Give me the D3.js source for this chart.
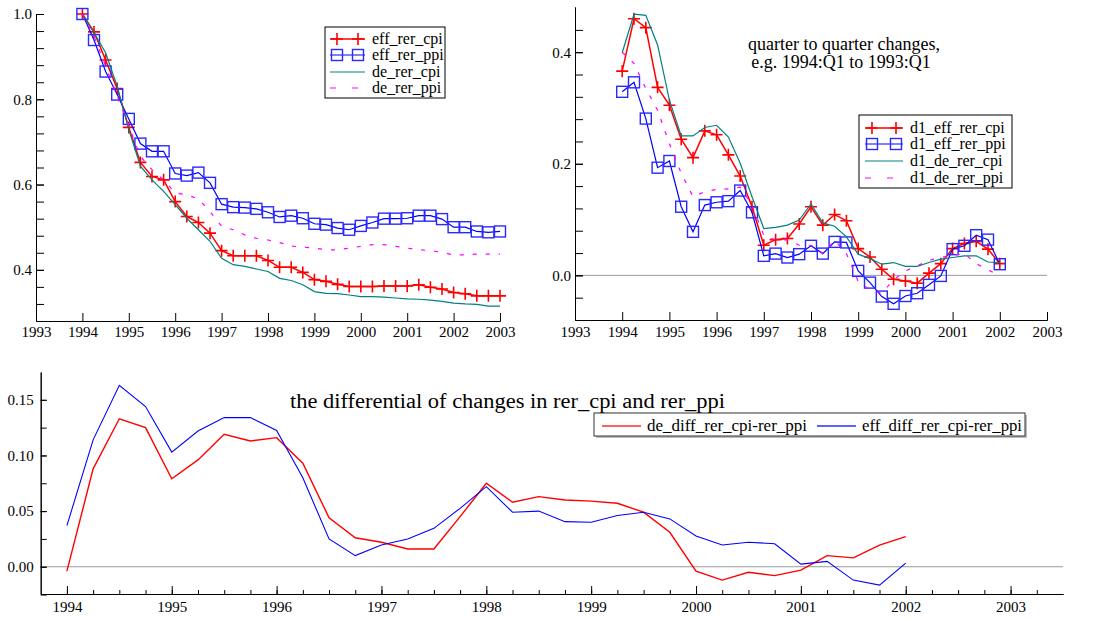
<!DOCTYPE html>
<meta charset="utf-8">
<title>rer cpi / ppi</title>
<style>
body { margin:0; background:#fff; }
svg { font-family: "Liberation Serif", "Times New Roman", serif; }
.axis path, .axis line { stroke:#000; stroke-width:1; }
.axis text { fill:#000; font-family: "Liberation Serif", "Times New Roman", serif; }
.zero { stroke:#999; stroke-width:1; }
.note { font-size:18px; fill:#000; }
</style>
<body>
<svg width="1093" height="618" id="chart"></svg>
<script src="https://d3js.org/d3.v7.min.js"></script>
<script>
// levels, quarterly from 1994:Q1 (=1)
var effRerCpi = [1.0,0.958,0.892,0.825,0.734,0.652,0.619,0.611,0.560,0.525,0.511,0.486,0.445,0.433,0.433,0.433,0.422,0.406,0.406,0.394,0.377,0.373,0.366,0.361,0.361,0.361,0.362,0.362,0.362,0.365,0.359,0.355,0.347,0.344,0.339,0.339,0.339];
var effRerPpi = [1.0,0.939,0.865,0.811,0.754,0.696,0.678,0.678,0.626,0.621,0.628,0.604,0.554,0.547,0.546,0.543,0.535,0.524,0.527,0.521,0.508,0.506,0.498,0.494,0.503,0.511,0.520,0.520,0.521,0.527,0.527,0.519,0.500,0.500,0.490,0.488,0.490];
var deRerCpi = [1.0,0.956,0.909,0.831,0.729,0.643,0.611,0.584,0.553,0.521,0.494,0.467,0.427,0.412,0.408,0.402,0.396,0.380,0.375,0.365,0.349,0.345,0.344,0.341,0.337,0.337,0.336,0.334,0.332,0.331,0.329,0.326,0.322,0.320,0.319,0.315,0.315];
var deRerPpi = [1.0,0.948,0.878,0.807,0.737,0.666,0.635,0.611,0.580,0.576,0.566,0.537,0.502,0.494,0.482,0.474,0.470,0.464,0.456,0.453,0.451,0.447,0.447,0.451,0.455,0.459,0.459,0.455,0.451,0.447,0.445,0.441,0.435,0.435,0.437,0.437,0.437];

// changes on the same quarter of the year before, 1994:Q1 .. 2002:Q1
var d1EffRerCpi = [0.366,0.460,0.444,0.337,0.305,0.244,0.211,0.259,0.252,0.216,0.178,0.123,0.054,0.064,0.066,0.092,0.123,0.090,0.109,0.098,0.048,0.033,0.011,-0.007,-0.010,-0.014,0.004,0.021,0.048,0.057,0.061,0.047,0.021];
var d1EffRerPpi = [0.329,0.346,0.281,0.193,0.205,0.123,0.078,0.126,0.131,0.133,0.152,0.113,0.035,0.039,0.032,0.038,0.053,0.039,0.060,0.059,0.008,-0.013,-0.038,-0.051,-0.037,-0.032,-0.017,-0.001,0.047,0.053,0.072,0.064,0.020];
var d1DeRerCpi = [0.399,0.468,0.466,0.413,0.314,0.250,0.250,0.265,0.269,0.248,0.201,0.141,0.084,0.086,0.090,0.099,0.128,0.094,0.088,0.069,0.038,0.030,0.020,0.023,0.016,0.016,0.023,0.029,0.032,0.035,0.035,0.024,0.023];
var d1DeRerPpi = [0.400,0.380,0.335,0.296,0.236,0.183,0.141,0.150,0.154,0.155,0.158,0.126,0.072,0.063,0.064,0.054,0.054,0.039,0.063,0.039,-0.011,-0.026,-0.032,-0.008,0.008,0.017,0.027,0.032,0.036,0.039,0.021,0.010,-0.001];

// differential cpi minus ppi changes
var deDiff = [-0.004,0.088,0.133,0.125,0.079,0.096,0.119,0.113,0.116,0.093,0.044,0.026,0.022,0.016,0.016,0.045,0.075,0.058,0.063,0.060,0.059,0.057,0.049,0.031,-0.004,-0.012,-0.005,-0.008,-0.003,0.010,0.008,0.0195,0.027];
var effDiff = [0.037,0.114,0.163,0.144,0.103,0.122,0.134,0.134,0.1225,0.080,0.025,0.010,0.0195,0.025,0.0345,0.0525,0.072,0.049,0.050,0.0405,0.040,0.046,0.049,0.043,0.0276,0.0195,0.022,0.0207,0.0024,0.0048,-0.012,-0.0165,0.0033];

var startYear = 1994;
var yearTicks = d3.range(1993, 2004);
var serif = '"Liberation Serif", "Times New Roman", serif';

var svg = d3.select("#chart");

function quarters(vals) {
  return vals.map(function(v, i) { return {t: startYear + i / 4, v: v}; });
}

function styleAxis(a, size) {
  a.attr("font-family", serif).attr("font-size", size);
  a.selectAll("text").attr("font-family", serif).attr("font-size", size).attr("fill", "#000");
}

function drawPanel(p) {
  var g = svg.append("g");
  var x = d3.scaleLinear().domain(p.xDomain).range(p.xRange);
  var y = d3.scaleLinear().domain(p.yDomain).range(p.yRange);

  if (p.zero) {
    g.append("line").attr("class", "zero")
      .attr("x1", p.xRange[0]).attr("x2", p.xRange[1])
      .attr("y1", y(0)).attr("y2", y(0));
  }

  // minor ticks
  g.append("g").attr("class", "axis")
    .attr("transform", "translate(0," + p.yRange[0] + ")")
    .call(d3.axisBottom(x).tickValues(p.xMinor).tickSize(-p.minorLen).tickSizeOuter(0).tickFormat(""));
  g.append("g").attr("class", "axis")
    .attr("transform", "translate(" + p.xRange[0] + ",0)")
    .call(d3.axisLeft(y).tickValues(p.yMinor).tickSize(-p.yMinorLen).tickSizeOuter(0).tickFormat(""));

  // major ticks + labels
  var xa = g.append("g").attr("class", "axis")
    .attr("transform", "translate(0," + p.yRange[0] + ")")
    .call(d3.axisBottom(x).tickValues(p.xMajor).tickSize(-8).tickSizeOuter(0)
      .tickPadding(p.xPad).tickFormat(d3.format("d")));
  styleAxis(xa, p.tickFont);
  var ya = g.append("g").attr("class", "axis")
    .attr("transform", "translate(" + p.xRange[0] + ",0)")
    .call(d3.axisLeft(y).tickValues(p.yMajor).tickSize(-p.yMajorLen).tickSizeOuter(0)
      .tickPadding(p.yPad).tickFormat(d3.format(p.yFmt)));
  styleAxis(ya, p.tickFont);

  var line = d3.line().x(function(d) { return x(d.t); }).y(function(d) { return y(d.v); });

  p.series.forEach(function(s) {
    var pts = quarters(s.values);
    g.append("path").datum(pts)
      .attr("fill", "none")
      .attr("stroke", s.color)
      .attr("stroke-width", s.width || 1.2)
      .attr("stroke-dasharray", s.dash || null)
      .attr("d", line);
    if (s.marker) {
      drawMarkers(g, pts.map(function(d) { return [x(d.t), y(d.v)]; }), s);
    }
  });
  return {x: x, y: y, g: g};
}

function drawMarkers(g, xy, s) {
  if (s.marker === "plus") {
    g.selectAll(null).data(xy).enter().append("path")
      .attr("d", function(d) { return "M" + (d[0] - 6) + "," + d[1] + "H" + (d[0] + 6) + "M" + d[0] + "," + (d[1] - 6) + "V" + (d[1] + 6); })
      .attr("stroke", s.color).attr("stroke-width", 1.6).attr("fill", "none");
  } else {
    g.selectAll(null).data(xy).enter().append("rect")
      .attr("x", function(d) { return d[0] - 5.5; })
      .attr("y", function(d) { return d[1] - 5.5; })
      .attr("width", 11).attr("height", 11)
      .attr("fill", "none").attr("stroke", "#2a2aff").attr("stroke-width", 1.4);
  }
}

function legend(box, items, rowY, sx, tx, font) {
  svg.append("rect").attr("x", box[0]).attr("y", box[1]).attr("width", box[2]).attr("height", box[3])
    .attr("fill", "#fff").attr("stroke", "#000").attr("stroke-width", 1);
  items.forEach(function(s, i) {
    var yy = rowY[i];
    svg.append("line").attr("x1", sx[0]).attr("x2", sx[1]).attr("y1", yy).attr("y2", yy)
      .attr("stroke", s.color).attr("stroke-width", s.width || 1.2)
      .attr("stroke-dasharray", s.dash ? "6,16" : null);
    if (s.marker) drawMarkers(svg, [[sx[0] + 7, yy], [sx[1] - 7, yy]], s);
    svg.append("text").attr("x", tx).attr("y", yy + 5).attr("font-size", font).text(s.name);
  });
}

var levelSeries = [
  {name: "eff_rer_cpi", values: effRerCpi, color: "#ff0000", width: 1.5, marker: "plus"},
  {name: "eff_rer_ppi", values: effRerPpi, color: "#0000ff", width: 1.2, marker: "square"},
  {name: "de_rer_cpi", values: deRerCpi, color: "#008080", width: 1.2},
  {name: "de_rer_ppi", values: deRerPpi, color: "#ff00ff", width: 1.2, dash: "4,9"}
];
var changeSeries = [
  {name: "d1_eff_rer_cpi", values: d1EffRerCpi, color: "#ff0000", width: 1.5, marker: "plus"},
  {name: "d1_eff_rer_ppi", values: d1EffRerPpi, color: "#0000ff", width: 1.2, marker: "square"},
  {name: "d1_de_rer_cpi", values: d1DeRerCpi, color: "#008080", width: 1.2},
  {name: "d1_de_rer_ppi", values: d1DeRerPpi, color: "#ff00ff", width: 1.2, dash: "4,9"}
];

// top left: levels
drawPanel({
  xDomain: [1993, 2003], xRange: [36, 500],
  yDomain: [0.28, 1.0], yRange: [321, 14],
  xMajor: yearTicks, xMinor: [], minorLen: 0, xPad: 5,
  yMajor: [0.4, 0.6, 0.8, 1.0], yMinor: d3.range(0.32, 1.0, 0.04), yMajorLen: 8, yMinorLen: 8,
  yPad: 4, yFmt: ".1f", tickFont: 15,
  series: levelSeries
});
legend([325, 27, 120, 71], levelSeries, [39, 55, 72, 88], [330, 365], 372, 16);

// top right: changes
drawPanel({
  xDomain: [1993, 2003], xRange: [575, 1047],
  yDomain: [-0.08, 0.481], yRange: [320, 7],
  xMajor: yearTicks, xMinor: [], minorLen: 0, xPad: 6,
  yMajor: [0.0, 0.2, 0.4], yMinor: d3.range(-0.04, 0.48, 0.04), yMajorLen: 8, yMinorLen: 8,
  yPad: 4, yFmt: ".1f", tickFont: 15, zero: true,
  series: changeSeries
});
legend([859, 115, 153, 73], changeSeries, [128, 144, 161, 178], [865, 903], 910, 16);

svg.append("text").attr("class", "note").attr("x", 844).attr("y", 50).attr("text-anchor", "middle")
  .text("quarter to quarter changes,");
svg.append("text").attr("class", "note").attr("x", 841).attr("y", 68).attr("text-anchor", "middle")
  .text("e.g. 1994:Q1 to 1993:Q1");

// bottom: differentials
var diffSeries = [
  {name: "de_diff_rer_cpi-rer_ppi", values: deDiff, color: "#ff0000", width: 1.4},
  {name: "eff_diff_rer_cpi-rer_ppi", values: effDiff, color: "#0000ff", width: 1.1}
];
drawPanel({
  xDomain: [1993.75, 2003.5], xRange: [40.7, 1063],
  yDomain: [-0.0245, 0.175], yRange: [594, 372],
  xMajor: d3.range(1994, 2004), xMinor: d3.range(1994, 2003.5, 0.25), minorLen: 4, xPad: 7,
  yMajor: [0.0, 0.05, 0.10, 0.15], yMinor: d3.range(-0.025, 0.17, 0.025), yMajorLen: 6, yMinorLen: 6,
  yPad: 7, yFmt: ".2f", tickFont: 15, zero: true,
  series: diffSeries
});

svg.append("text").attr("x", 290).attr("y", 408).attr("textLength", 435).attr("lengthAdjust", "spacingAndGlyphs")
  .attr("font-size", 20).text("the differential of changes in rer_cpi and rer_ppi");

svg.append("rect").attr("x", 596).attr("y", 415).attr("width", 431).attr("height", 23).attr("fill", "#bbb");
svg.append("rect").attr("x", 594).attr("y", 413).attr("width", 431).attr("height", 23)
  .attr("fill", "#fff").attr("stroke", "#333").attr("stroke-width", 1);
[[602, 641, 647, "#ff6060"], [817, 856, 862, "#6060ff"]].forEach(function(c, i) {
  svg.append("line").attr("x1", c[0]).attr("x2", c[1]).attr("y1", 426).attr("y2", 426)
    .attr("stroke", c[3]).attr("stroke-width", 2);
  svg.append("text").attr("x", c[2]).attr("y", 431).attr("textLength", 160)
    .attr("lengthAdjust", "spacingAndGlyphs").attr("font-size", 17).text(diffSeries[i].name);
});
</script>
</body>
